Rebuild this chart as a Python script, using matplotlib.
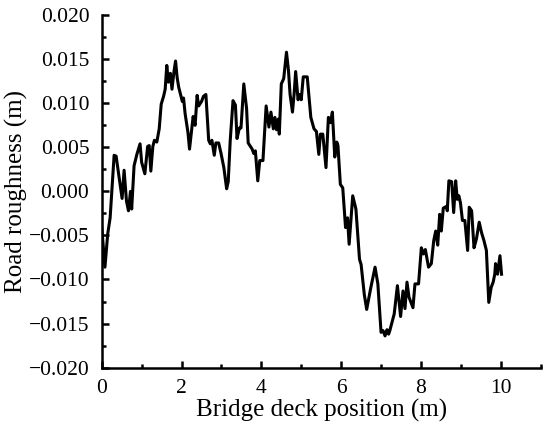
import matplotlib
matplotlib.use('Agg')
import matplotlib.pyplot as plt
from matplotlib.ticker import MultipleLocator, FuncFormatter

plt.rcParams['font.family'] = ['Liberation Serif', 'DejaVu Serif']
plt.rcParams['mathtext.fontset'] = 'stix'

# Road roughness profile
position = [0.0, 0.08, 0.15, 0.21, 0.31, 0.36, 0.51, 0.56, 0.62, 0.67, 0.72, 0.75,
            0.81, 0.88, 0.96, 1.0, 1.08, 1.15, 1.19, 1.23, 1.28, 1.32, 1.38, 1.44,
            1.49, 1.55, 1.59, 1.63, 1.67, 1.72, 1.76, 1.81, 1.85, 1.89, 1.93, 1.97,
            2.02, 2.05, 2.09, 2.16, 2.2, 2.26, 2.29, 2.34, 2.39, 2.43, 2.5, 2.55,
            2.61, 2.68, 2.72, 2.76, 2.82, 2.86, 2.93, 2.99, 3.06, 3.13, 3.17, 3.22,
            3.29, 3.35, 3.39, 3.45, 3.49, 3.56, 3.63, 3.67, 3.77, 3.81, 3.85, 3.91,
            3.96, 4.04, 4.12, 4.19, 4.24, 4.3, 4.34, 4.38, 4.42, 4.45, 4.5, 4.56,
            4.63, 4.68, 4.72, 4.78, 4.82, 4.86, 4.92, 4.96, 5.0, 5.05, 5.15, 5.24,
            5.32, 5.38, 5.44, 5.48, 5.54, 5.62, 5.68, 5.73, 5.78, 5.84, 5.89, 5.92,
            5.98, 6.04, 6.11, 6.16, 6.2, 6.29, 6.37, 6.46, 6.5, 6.58, 6.64, 6.74,
            6.85, 6.92, 7.0, 7.05, 7.1, 7.15, 7.19, 7.22, 7.33, 7.41, 7.49, 7.55,
            7.6, 7.65, 7.7, 7.8, 7.85, 7.94, 8.01, 8.06, 8.11, 8.19, 8.26, 8.32,
            8.37, 8.42, 8.47, 8.51, 8.56, 8.64, 8.66, 8.7, 8.77, 8.82, 8.87, 8.91,
            8.95, 8.99, 9.04, 9.1, 9.17, 9.21, 9.27, 9.33, 9.39, 9.46, 9.52, 9.58,
            9.64, 9.7, 9.76, 9.81, 9.85, 9.87, 9.92, 9.98, 10.02]
roughness = [-0.0041, -0.0086, -0.0048, -0.0030, 0.0041, 0.0040, -0.0008, 0.0024,
             -0.0011, -0.0022, 0.0000, -0.0020, 0.0029, 0.0042, 0.0054, 0.0033,
             0.0020, 0.0051, 0.0052, 0.0023, 0.0051, 0.0058, 0.0056, 0.0071,
             0.0099, 0.0108, 0.0116, 0.0143, 0.0124, 0.0134, 0.0116, 0.0136,
             0.0148, 0.0129, 0.0118, 0.0111, 0.0102, 0.0106, 0.0088, 0.0067,
             0.0048, 0.0072, 0.0085, 0.0075, 0.0109, 0.0097, 0.0102, 0.0108,
             0.0110, 0.0058, 0.0054, 0.0058, 0.0041, 0.0055, 0.0055, 0.0043,
             0.0027, 0.0003, 0.0011, 0.0058, 0.0103, 0.0098, 0.0060, 0.0072,
             0.0072, 0.0122, 0.0094, 0.0055, 0.0048, 0.0043, 0.0046, 0.0012,
             0.0035, 0.0035, 0.0097, 0.0073, 0.0090, 0.0071, 0.0084, 0.0070,
             0.0082, 0.0065, 0.0122, 0.0128, 0.0158, 0.0137, 0.0110, 0.0090,
             0.0110, 0.0136, 0.0104, 0.0110, 0.0104, 0.0130, 0.0130, 0.0084,
             0.0071, 0.0068, 0.0042, 0.0065, 0.0065, 0.0027, 0.0084, 0.0078,
             0.0090, 0.0039, 0.0056, 0.0052, 0.0008, 0.0004, -0.0041, -0.0030,
             -0.0060, -0.0005, -0.0020, -0.0077, -0.0083, -0.0117, -0.0134, -0.0110,
             -0.0086, -0.0105, -0.0160, -0.0158, -0.0164, -0.0157, -0.0162, -0.0158,
             -0.0139, -0.0107, -0.0142, -0.0113, -0.0133, -0.0103, -0.0120, -0.0132,
             -0.0105, -0.0105, -0.0064, -0.0071, -0.0066, -0.0086, -0.0082, -0.0056,
             -0.0045, -0.0061, -0.0026, -0.0045, -0.0019, -0.0017, -0.0022, 0.0012,
             0.0011, -0.0024, 0.0012, -0.0009, -0.0005, -0.0013, -0.0033, -0.0033,
             -0.0067, -0.0018, -0.0022, -0.0064, -0.0054, -0.0035, -0.0047, -0.0056,
             -0.0067, -0.0126, -0.0109, -0.0103, -0.0094, -0.0082, -0.0094, -0.0073,
             -0.0094]

fig = plt.figure(figsize=(5.5, 4.34), dpi=100)
ax = fig.add_axes([0.185, 0.153, 0.798, 0.812])

ax.plot(position, roughness, color='k', lw=2.2)

ax.set_xlim(0, 11)
ax.set_ylim(-0.020, 0.020)
ax.xaxis.set_major_locator(MultipleLocator(2))
ax.xaxis.set_minor_locator(MultipleLocator(1))
ax.yaxis.set_major_locator(MultipleLocator(0.005))
ax.yaxis.set_minor_locator(MultipleLocator(0.0025))
ax.yaxis.set_major_formatter(FuncFormatter(lambda v, p: f'{v:.3f}'.replace('-', '\u2212')))

# only left and bottom axes, ticks pointing in
ax.spines['top'].set_visible(False)
ax.spines['right'].set_visible(False)
for s in ['left', 'bottom']:
    ax.spines[s].set_linewidth(1.8)
ax.tick_params(which='major', direction='in', length=5, width=1.8, labelsize=15.5)
ax.tick_params(axis='x', which='major', pad=8)
ax.tick_params(axis='y', which='major', pad=9)
ax.tick_params(which='minor', direction='in', length=3, width=1.8)

ax.set_xlabel('Bridge deck position (m)', fontsize=18, labelpad=1)
ax.set_ylabel('Road roughness (m)', fontsize=18, labelpad=0)

fig.savefig('out.png', dpi=100)
